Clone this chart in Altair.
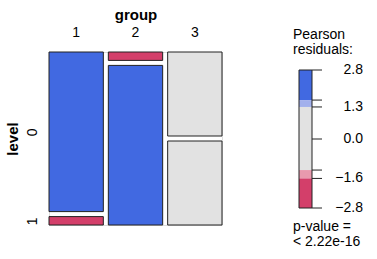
import altair as alt
import pandas as pd

# ---- data -------------------------------------------------------------
groups = ["1", "2", "3"]
levels = ["0", "1"]
counts_level0 = [19, 1, 10]
counts_level1 = [1, 19, 10]

# legend (Pearson residuals)
legend_band_top = [2.8, 1.58, 1.3, -1.26, -1.6]
legend_band_bottom = [1.58, 1.3, -1.26, -1.6, -2.8]
legend_band_colors = ["#4169E1", "#A2B0EC", "#E2E2E2", "#E89AAE", "#D33F6A"]
legend_tick_values = [2.8, 1.58, 1.3, 0.0, -1.26, -1.6, -2.8]
legend_label_values = [2.8, 1.3, 0.0, -1.6, -2.8]
pvalue_text = "p-value =\n< 2.22e-16"
legend_title = "Pearson\nresiduals:"

# ---- layout constants -------------------------------------------------
PLOT = 173
GAP = 5
CONTENT = PLOT - GAP * (len(levels) - 1)
FONT = "Liberation Sans"
FS = 14

# ---- build mosaic tiles --------------------------------------------------
counts = [counts_level0, counts_level1]
n_groups = len(groups)
total = sum(sum(c) for c in counts)
row_tot = [sum(c) for c in counts]
col_tot = [sum(counts[l][g] for l in range(len(levels))) for g in range(n_groups)]

rows = []
for g in range(n_groups):
    y0 = 0.0
    for l in range(len(levels)):
        obs = counts[l][g]
        exp = row_tot[l] * col_tot[g] / total
        res = (obs - exp) / exp ** 0.5
        h = obs / col_tot[g] * CONTENT
        if res >= 1.58:
            fill = legend_band_colors[0]
        elif res >= 1.3:
            fill = legend_band_colors[1]
        elif res > -1.26:
            fill = legend_band_colors[2]
        elif res > -1.6:
            fill = legend_band_colors[3]
        else:
            fill = legend_band_colors[4]
        rows.append({"group": groups[g], "level": levels[l], "y": y0, "y2": y0 + h,
                     "fill": fill, "res": res})
        y0 = y0 + h + GAP
tiles = pd.DataFrame(rows)

# level labels sit at the tiles of the first group
first = tiles[tiles["group"] == groups[0]]
centers = [(a + b) / 2 for a, b in zip(first["y"], first["y2"])]
expr = "'" + levels[-1] + "'"
for c, lab, nxt in zip(reversed(centers[:-1]), reversed(levels[:-1]), reversed(centers[1:])):
    expr = f"datum.value < {(c + nxt) / 2:.3f} ? '{lab}' : " + expr

step = (PLOT + GAP) / n_groups
pad_inner = GAP / step

axis_style = dict(labelFont=FONT, titleFont=FONT, labelFontSize=FS, titleFontSize=15,
                  titleFontWeight="bold", labelColor="black", titleColor="black")

mosaic = alt.Chart(tiles).mark_rect(stroke="#222222", strokeWidth=1).encode(
    x=alt.X("group:N", sort=groups,
            scale=alt.Scale(paddingInner=pad_inner, paddingOuter=0),
            axis=alt.Axis(orient="top", title="group", labelAngle=0, ticks=False, domain=False,
                          tickSize=0, labelPadding=13, titlePadding=3, **axis_style)),
    y=alt.Y("y:Q", scale=alt.Scale(domain=[0, PLOT], reverse=True, nice=False, zero=False),
            axis=alt.Axis(values=centers, labelExpr=expr, title="level", ticks=False,
                          domain=False, grid=False, tickSize=0, labelAngle=-90,
                          labelAlign="center", labelBaseline="bottom", labelPadding=10,
                          titlePadding=5, **axis_style)),
    y2="y2:Q",
    color=alt.Color("fill:N", scale=None),
)

# ---- legend --------------------------------------------------------------
leg_scale = alt.Scale(domain=[-2.8, 2.8], range=[156, 18], nice=False, zero=False)
bands = pd.DataFrame({"top": legend_band_top, "bottom": legend_band_bottom,
                      "fill": legend_band_colors})
ticks = pd.DataFrame({"v": legend_tick_values})
labels = pd.DataFrame({"v": legend_label_values})
frame = pd.DataFrame({"top": [max(legend_band_top)], "bottom": [min(legend_band_bottom)]})

BX0, BX1 = 250, 263

leg_bands = alt.Chart(bands).mark_rect().encode(
    x=alt.value(BX0), x2=alt.value(BX1),
    y=alt.Y("top:Q", scale=leg_scale, axis=None), y2="bottom:Q",
    color=alt.Color("fill:N", scale=None),
)
leg_frame = alt.Chart(frame).mark_rect(fill=None, stroke="#222222", strokeWidth=1).encode(
    x=alt.value(BX0), x2=alt.value(BX1),
    y=alt.Y("top:Q", scale=leg_scale, axis=None), y2="bottom:Q",
)
leg_ticks = alt.Chart(ticks).mark_rule(color="#222222", strokeWidth=1).encode(
    x=alt.value(BX1), x2=alt.value(BX1 + 10),
    y=alt.Y("v:Q", scale=leg_scale, axis=None),
)
leg_labels = alt.Chart(labels).mark_text(align="right", baseline="middle", font=FONT,
                                         fontSize=FS, color="black").encode(
    x=alt.value(314),
    y=alt.Y("v:Q", scale=leg_scale, axis=None),
    text=alt.Text("v:Q", format=".1f"),
)
leg_title = alt.Chart(pd.DataFrame({"t": [legend_title]})).mark_text(
    align="left", baseline="top", font=FONT, fontSize=FS, lineBreak="\n", lineHeight=15,
    color="black").encode(x=alt.value(244), y=alt.value(-24), text="t:N")
leg_p = alt.Chart(pd.DataFrame({"t": [pvalue_text]})).mark_text(
    align="left", baseline="top", font=FONT, fontSize=FS, lineBreak="\n", lineHeight=15,
    color="black").encode(x=alt.value(244), y=alt.value(168), text="t:N")

chart = alt.layer(mosaic, leg_bands, leg_frame, leg_ticks, leg_labels, leg_title, leg_p).resolve_scale(
    y="independent", x="independent", color="independent"
).properties(
    width=PLOT, height=PLOT,
    autosize=alt.AutoSizeParams(type="none"),
    padding={"left": 49, "top": 52, "right": 377 - 49 - PLOT, "bottom": 259 - 52 - PLOT},
).configure_view(stroke=None).configure(background="white")

chart.save("out.html", embed_options={"renderer": "svg", "actions": False})
